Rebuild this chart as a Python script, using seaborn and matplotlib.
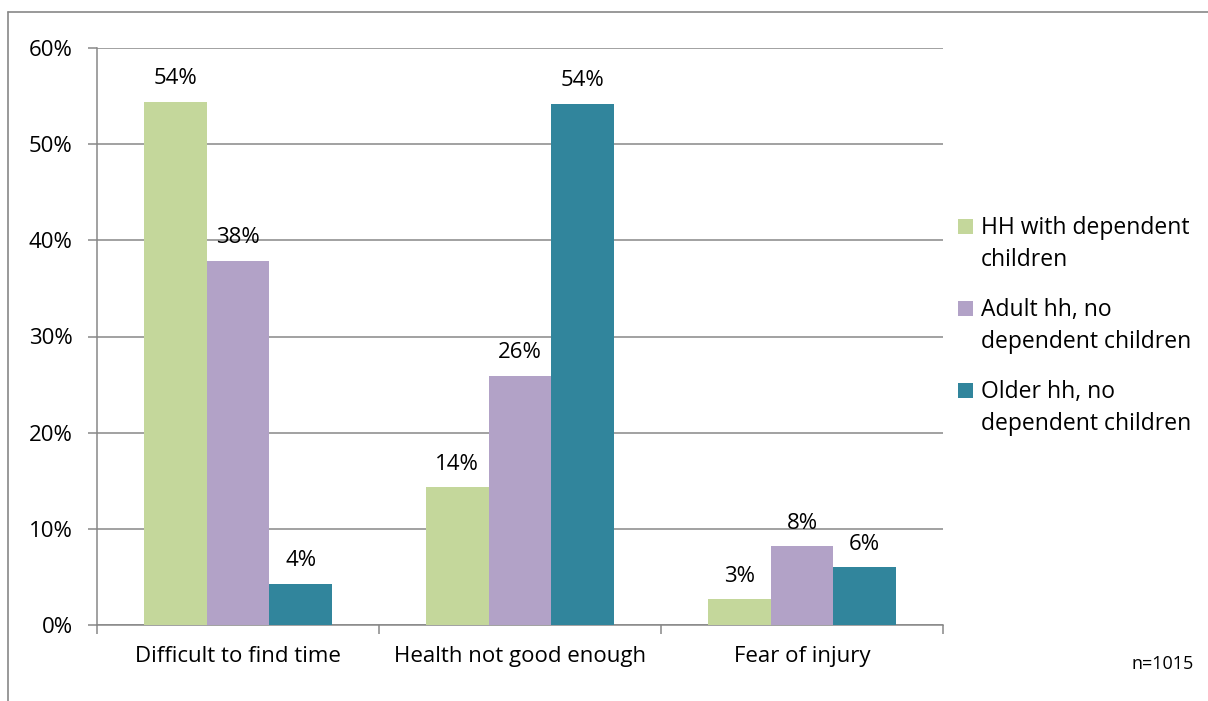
import matplotlib
matplotlib.use("Agg")
import matplotlib.pyplot as plt
import pandas as pd
import seaborn as sns
from matplotlib.lines import Line2D
from matplotlib.patches import Rectangle
from matplotlib.legend_handler import HandlerPatch

reasons = ["Difficult to find time", "Health not good enough", "Fear of injury"]
groups = [
    "HH with dependent\nchildren",
    "Adult hh, no\ndependent children",
    "Older hh, no\ndependent children",
]
hh_children = [54.4, 14.3, 2.7]
adult_no_children = [37.9, 25.9, 8.2]
older_no_children = [4.3, 54.2, 6.0]
y_ticks = [0, 10, 20, 30, 40, 50, 60]
colors = ["#C4D79B", "#B2A2C7", "#31859C"]

df = pd.DataFrame({
    "reason": reasons * 3,
    "group": [g for g in groups for _ in reasons],
    "pct": hh_children + adult_no_children + older_no_children,
})

sns.set_style("white")
plt.rcParams["font.family"] = ["Open Sans", "DejaVu Sans"]
plt.rcParams["text.color"] = "black"
plt.rcParams["xtick.labelcolor"] = "black"
plt.rcParams["ytick.labelcolor"] = "black"

fig = plt.figure(figsize=(12.08, 7.01), dpi=100)
ax = fig.add_axes([97 / 1208, 1 - 625 / 701, 846 / 1208, 577 / 701])

sns.barplot(data=df, x="reason", y="pct", hue="group", hue_order=groups,
            order=reasons, palette=colors, saturation=1, width=0.667,
            linewidth=0, ax=ax, zorder=3)

for cont in ax.containers:
    ax.bar_label(cont, labels=[f"{v:.0f}%" for v in cont.datavalues],
                 padding=9, fontsize=16, color="black")

ax.set_ylim(0, 60)
ax.set_xlim(-0.5, 2.5)
ax.set_yticks(y_ticks)
ax.set_yticklabels([f"{t}%" for t in y_ticks], fontsize=16)
ax.yaxis.grid(True, color="#878787", linewidth=1.1, zorder=0)
ax.set_axisbelow(True)
ax.tick_params(axis="y", length=6.5, width=1.1, color="#878787", pad=11, left=True,
               labelcolor="black")
ax.tick_params(axis="x", which="major", length=0, pad=15, labelsize=16,
               labelcolor="black")
ax.set_xticks([-0.5, 0.5, 1.5, 2.5], minor=True)
ax.tick_params(axis="x", which="minor", length=6.5, width=1.1, color="#878787",
               bottom=True, direction="out")
ax.set_xlabel("")
ax.set_ylabel("")
for side in ["top", "right"]:
    ax.spines[side].set_visible(False)
for side in ["left", "bottom"]:
    ax.spines[side].set_color("#878787")
    ax.spines[side].set_linewidth(1.1)


def top_square(legend, orig_handle, xdescent, ydescent, width, height, fontsize):
    # square marker aligned with the first line of a two-line label
    sq = width
    return Rectangle((-xdescent, -ydescent + height - sq + 0.22 * fontsize), sq, sq)


handles, labels = ax.get_legend_handles_labels()
leg = ax.legend(handles, labels, loc="center left",
                bbox_to_anchor=(958 / 1208, 1 - 326 / 701),
                bbox_transform=fig.transFigure, frameon=False, fontsize=16.5,
                handlelength=0.65, handleheight=2.6, handletextpad=0.35,
                labelspacing=1.12, borderpad=0, borderaxespad=0,
                handler_map={h: HandlerPatch(patch_func=top_square) for h in handles})
for t in leg.get_texts():
    t.set_linespacing(1.45)
    t.set_color("black")

fig.text(1194 / 1208, 1 - 664 / 701, "n=1015", ha="right", va="center", fontsize=13,
         color="black")

# outer chart border (top and left only visible)
fig.add_artist(Line2D([8 / 1208, 8 / 1208], [0, 1 - 12 / 701], color="#878787",
                      linewidth=1.2, transform=fig.transFigure))
fig.add_artist(Line2D([8 / 1208, 1], [1 - 12 / 701, 1 - 12 / 701], color="#878787",
                      linewidth=1.2, transform=fig.transFigure))

fig.savefig("out.png", dpi=100)
plt.close(fig)
